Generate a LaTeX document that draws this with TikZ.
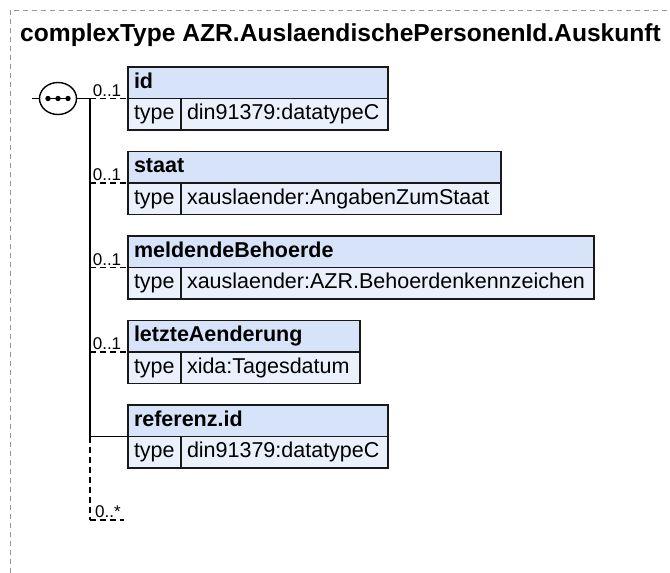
\documentclass[tikz,border=0pt]{standalone}
\usepackage{fontspec}
\setmainfont{Liberation Sans}
\usetikzlibrary{shapes.geometric}
\definecolor{hdrfill}{RGB}{214,227,248}
\definecolor{rowfill}{RGB}{234,241,252}
\definecolor{boxline}{RGB}{25,25,25}
\definecolor{framegray}{RGB}{150,150,150}
\begin{document}
\begin{tikzpicture}[x=1pt,y=-1pt,
  boxbase/.style={draw=boxline, line width=1.4pt, outer sep=0pt, minimum height=31.5pt, inner xsep=6pt, inner ysep=0pt, text height=15pt, text depth=4.5pt, align=left, font=\fontsize{21.5}{24}\selectfont},
  hdr/.style={boxbase, fill=hdrfill, anchor=north west, font=\fontsize{21.5}{24}\selectfont\bfseries},
  typecell/.style={boxbase, fill=rowfill, anchor=north west, text width=41pt},
  valcell/.style={boxbase, fill=rowfill, anchor=north west},
  conn/.style={draw=black, line width=1.4pt},
  optconn/.style={conn, dash pattern=on 6pt off 4pt},
  card/.style={font=\fontsize{17}{19}\selectfont, inner sep=1.5pt, anchor=south},
  compositor/.style={ellipse, draw=black, fill=white, line width=1.4pt, outer sep=0pt, minimum width=37pt, minimum height=32pt, inner sep=0pt}
]
\useasboundingbox (0,0) rectangle (670,573);
% outer frame
\draw[framegray, line width=1pt, dash pattern=on 5pt off 4pt] (10,573) -- (10,10) -- (670,10);
% title
\node[anchor=base west, inner sep=0pt, font=\fontsize{24.6}{28}\selectfont\bfseries] (title) at (20,41) {complexType AZR.AuslaendischePersonenId.Auskunft};

% element boxes
\node[hdr, text width=248pt] (h1) at (128,67) {id};
\node[typecell] (t1) at (h1.south west) {type};
\node[valcell, text width=195pt] (v1) at (t1.north east) {din91379:datatypeC};

\node[hdr, text width=361pt] (h2) at (128,151.5) {staat};
\node[typecell] (t2) at (h2.south west) {type};
\node[valcell, text width=308pt] (v2) at (t2.north east) {xauslaender:AngabenZumStaat};

\node[hdr, text width=454pt] (h3) at (128,236) {meldendeBehoerde};
\node[typecell] (t3) at (h3.south west) {type};
\node[valcell, text width=401pt] (v3) at (t3.north east) {xauslaender:AZR.Behoerdenkennzeichen};

\node[hdr, text width=220pt] (h4) at (128,320.5) {letzteAenderung};
\node[typecell] (t4) at (h4.south west) {type};
\node[valcell, text width=167pt] (v4) at (t4.north east) {xida:Tagesdatum};

\node[hdr, text width=248pt] (h5) at (128,405) {referenz.id};
\node[typecell] (t5) at (h5.south west) {type};
\node[valcell, text width=195pt] (v5) at (t5.north east) {din91379:datatypeC};

% compositor
\node[compositor] (seq) at (58,98.5) {};
\draw[line width=1.4pt] ([xshift=-10pt]seq.center) -- ([xshift=10pt]seq.center);
\fill ([xshift=-10pt]seq.center) circle (2.7pt);
\fill (seq.center) circle (2.7pt);
\fill ([xshift=10pt]seq.center) circle (2.7pt);

% trunk coordinates
\coordinate (in) at (32,98.5);
\coordinate (j1) at (90,0 |- h1.south west);
\coordinate (j2) at (90,0 |- h2.south west);
\coordinate (j3) at (90,0 |- h3.south west);
\coordinate (j4) at (90,0 |- h4.south west);
\coordinate (j5) at (90,0 |- h5.south west);
\coordinate (jend) at (90,520);
\coordinate (jendr) at (124,520);

\draw[conn] (in) -- (seq.west);
\draw[conn] (seq.east) -- (j1);
\draw[conn] (j1) -- (j5);
\draw[optconn] (j5) -- (jend);
\draw[optconn] (jend) -- node[card, anchor=south west, xshift=-14pt] {0..*} (jendr);

\draw[optconn] (j1) -- node[card, xshift=-2pt] {0..1} (h1.south west);
\draw[optconn] (j2) -- node[card, xshift=-2pt] {0..1} (h2.south west);
\draw[optconn] (j3) -- node[card, xshift=-2pt] {0..1} (h3.south west);
\draw[optconn] (j4) -- node[card, xshift=-2pt] {0..1} (h4.south west);
\draw[conn] (j5) -- (h5.south west);
\end{tikzpicture}
\end{document}
